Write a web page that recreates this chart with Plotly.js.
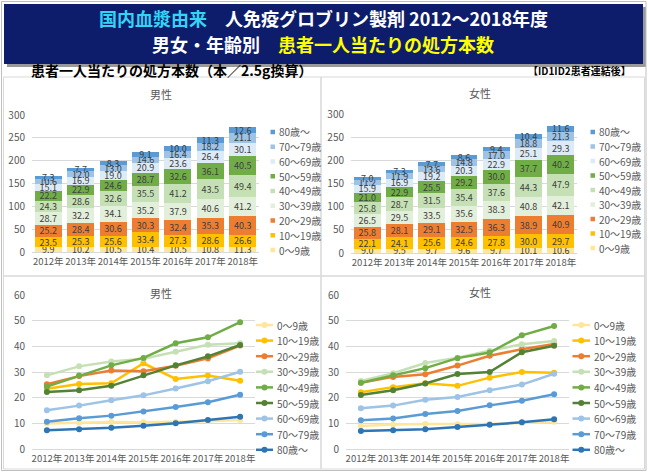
<!DOCTYPE html>
<html>
<head>
<meta charset="utf-8">
<script src="https://cdn.plot.ly/plotly-3.0.1.min.js"></script>
<style>html,body{margin:0;padding:0;background:#fff;}#chart{width:648px;height:472px;}</style>
</head>
<body>
<div id="chart"></div>
<script>
// ---------- DATA ----------
const years = ['2012年', '2013年', '2014年', '2015年', '2016年', '2017年', '2018年'];
const ageGroups = ['0～9歳', '10～19歳', '20～29歳', '30～39歳', '40～49歳', '50～59歳', '60～69歳', '70～79歳', '80歳～'];

// 男性 (male) — prescriptions per patient (2.5g equivalent)
const male_00_09 = [9.9, 10.2, 10.5, 10.4, 10.5, 10.8, 11.3];
const male_10_19 = [23.5, 25.3, 25.6, 33.4, 27.3, 28.6, 26.6];
const male_20_29 = [25.2, 28.4, 30.6, 30.3, 32.4, 35.3, 40.3];
const male_30_39 = [28.7, 32.2, 34.1, 35.2, 37.9, 40.6, 41.2];
const male_40_49 = [24.3, 28.6, 32.6, 35.5, 41.2, 43.5, 49.4];
const male_50_59 = [22.2, 22.9, 24.6, 28.7, 32.6, 36.1, 40.5];
const male_60_69 = [15.1, 16.9, 19.0, 20.9, 23.6, 26.4, 30.1];
const male_70_79 = [10.6, 12.0, 13.0, 14.6, 16.4, 18.2, 21.1];
const male_80_up = [7.3, 7.7, 8.3, 9.1, 10.0, 11.3, 12.6];

// 女性 (female)
const female_00_09 = [9.0, 9.5, 9.7, 9.6, 9.7, 10.1, 10.6];
const female_10_19 = [22.1, 24.1, 25.6, 24.6, 27.8, 30.0, 29.7];
const female_20_29 = [25.8, 28.1, 29.1, 32.5, 36.3, 38.9, 40.9];
const female_30_39 = [26.5, 29.5, 33.5, 35.6, 38.3, 40.8, 42.1];
const female_40_49 = [25.8, 28.7, 31.5, 35.4, 37.6, 44.3, 47.9];
const female_50_59 = [21.0, 22.9, 25.5, 29.2, 30.0, 37.7, 40.2];
const female_60_69 = [15.9, 16.9, 19.2, 20.3, 22.9, 25.1, 29.3];
const female_70_79 = [11.2, 11.9, 13.6, 14.8, 17.0, 18.8, 21.3];
const female_80_up = [7.0, 7.3, 7.7, 8.6, 9.4, 10.4, 11.6];

const maleSeries = [male_00_09, male_10_19, male_20_29, male_30_39, male_40_49, male_50_59, male_60_69, male_70_79, male_80_up];
const femaleSeries = [female_00_09, female_10_19, female_20_29, female_30_39, female_40_49, female_50_59, female_60_69, female_70_79, female_80_up];

// ---------- STYLE ----------
const barColors = ['#FFE699', '#FFC000', '#ED7D31', '#E2EFDA', '#C5E0B4', '#70AD47', '#DDEBF7', '#9DC3E6', '#5B9BD5'];
const lineColors = ['#FFE699', '#FFC000', '#ED7D31', '#C5E0B4', '#70AD47', '#548235', '#9DC3E6', '#5B9BD5', '#2E75B6'];
const FONT = '"Noto Sans CJK JP", "Noto Sans", sans-serif';
const W = 648, H = 472;
const X = p => p / W;
const Y = p => 1 - p / H;

const traces = [];
function addBars(series, xa, ya) {
  series.forEach((vals, i) => {
    traces.push({
      type: 'bar', x: years, y: vals, xaxis: xa, yaxis: ya, name: ageGroups[i],
      marker: {color: barColors[i], line: {width: 0}},
      texttemplate: '%{y:.1f}', textposition: 'inside', insidetextanchor: 'middle', textangle: 0,
      textfont: {size: 9, color: '#404040', family: FONT},
      cliponaxis: false, showlegend: false, hoverinfo: 'x+y+name'
    });
  });
}
function addLines(series, xa, ya) {
  series.forEach((vals, i) => {
    traces.push({
      type: 'scatter', mode: 'lines+markers', x: years, y: vals, xaxis: xa, yaxis: ya, name: ageGroups[i],
      line: {color: lineColors[i], width: 2.5}, marker: {color: lineColors[i], size: 6},
      showlegend: false, cliponaxis: false
    });
  });
}
addBars(maleSeries, 'x', 'y');
addBars(femaleSeries, 'x2', 'y2');
addLines(maleSeries, 'x3', 'y3');
addLines(femaleSeries, 'x4', 'y4');

const tickfont = {size: 9.5, color: '#595959', family: FONT};
function xax(d0, d1, anchor) {
  return {domain: [X(d0), X(d1)], anchor: anchor, type: 'category', tickfont: tickfont, tickangle: 0,
          showgrid: false, showline: false, zeroline: false, ticks: '', ticklabelstandoff: 2, fixedrange: true};
}
function yax(top, bottom, max, dtick, anchor) {
  return {domain: [Y(bottom), Y(top)], anchor: anchor, range: [0, max], dtick: dtick, tickfont: {size: 10, color: '#595959', family: FONT},
          gridcolor: '#D9D9D9', gridwidth: 1, zeroline: true, zerolinecolor: '#D9D9D9', zerolinewidth: 1,
          showline: false, ticks: '', ticklabelstandoff: 6, fixedrange: true};
}

const shapes = [];
const annotations = [];
// frame and panels
shapes.push({type: 'rect', xref: 'paper', yref: 'paper', x0: X(1.5), x1: X(646), y0: Y(470.5), y1: Y(1.5), line: {color: '#BFBFBF', width: 1}});
shapes.push({type: 'rect', xref: 'paper', yref: 'paper', x0: X(3.5), x1: X(644.5), y0: Y(469), y1: Y(77), line: {color: '#D9D9D9', width: 1}});
shapes.push({type: 'line', xref: 'paper', yref: 'paper', x0: X(321), x1: X(321), y0: Y(469), y1: Y(77), line: {color: '#D9D9D9', width: 1.5}});
shapes.push({type: 'line', xref: 'paper', yref: 'paper', x0: X(3.5), x1: X(644.5), y0: Y(276), y1: Y(276), line: {color: '#D9D9D9', width: 1.5}});
// banner
shapes.push({type: 'rect', xref: 'paper', yref: 'paper', x0: X(7), x1: X(646), y0: Y(67), y1: Y(7), fillcolor: '#9A9A9A', line: {width: 0}, layer: 'below'});
shapes.push({type: 'rect', xref: 'paper', yref: 'paper', x0: X(4), x1: X(643), y0: Y(64), y1: Y(4), fillcolor: '#0D1D6B', line: {width: 0}, layer: 'below'});

annotations.push({xref: 'paper', yref: 'paper', x: X(323), y: Y(18), xanchor: 'center', yanchor: 'middle', showarrow: false,
  text: '<b><span style="color:#33D3F5">国内血漿由来</span>　人免疫グロブリン製剤 2012～2018年度</b>',
  font: {size: 18, color: '#FFFFFF', family: FONT}});
annotations.push({xref: 'paper', yref: 'paper', x: X(323), y: Y(44), xanchor: 'center', yanchor: 'middle', showarrow: false,
  text: '<b>男女・年齢別　<span style="color:#FFFF00">患者一人当たりの処方本数</span></b>',
  font: {size: 18, color: '#FFFFFF', family: FONT}});
annotations.push({xref: 'paper', yref: 'paper', x: X(29), y: Y(70), xanchor: 'left', yanchor: 'middle', showarrow: false,
  text: '<b>患者一人当たりの処方本数（本／2.5g換算）</b>', font: {size: 14, color: '#000000', family: FONT}});
annotations.push({xref: 'paper', yref: 'paper', x: X(633), y: Y(70), xanchor: 'right', yanchor: 'middle', showarrow: false,
  text: '<b>【ID1ID2患者連結後】</b>', font: {size: 10, color: '#000000', family: FONT}});

// panel titles
[[161, 94, '男性'], [480, 93, '女性'], [161, 293, '男性'], [480, 292, '女性']].forEach(t => {
  annotations.push({xref: 'paper', yref: 'paper', x: X(t[0]), y: Y(t[1]), xanchor: 'center', yanchor: 'middle', showarrow: false,
    text: t[2], font: {size: 11, color: '#595959', family: FONT}, bgcolor: '#FFFFFF', borderpad: 0});
});

// bar legends (reversed order: 80歳～ on top)
function barLegend(sqX, top, step) {
  for (let k = 0; k < ageGroups.length; k++) {
    const i = ageGroups.length - 1 - k;
    const cy = top + k * step;
    shapes.push({type: 'rect', xref: 'paper', yref: 'paper', x0: X(sqX), x1: X(sqX + 4.5), y0: Y(cy + 2.25), y1: Y(cy - 2.25),
      fillcolor: barColors[i], line: {width: 0}});
    annotations.push({xref: 'paper', yref: 'paper', x: X(sqX + 6), y: Y(cy), xanchor: 'left', yanchor: 'middle', showarrow: false,
      text: ageGroups[i], font: {size: 10, color: '#595959', family: FONT}});
  }
}
barLegend(270.5, 132, 14.75);
barLegend(590.5, 132, 14.5);

// line legends
function lineLegend(x0, x1, top, step) {
  for (let i = 0; i < ageGroups.length; i++) {
    const cy = top + i * step;
    const mx = (x0 + x1) / 2;
    shapes.push({type: 'line', xref: 'paper', yref: 'paper', x0: X(x0), x1: X(x1), y0: Y(cy), y1: Y(cy),
      line: {color: lineColors[i], width: 2.5}});
    shapes.push({type: 'circle', xref: 'paper', yref: 'paper', x0: X(mx - 3), x1: X(mx + 3), y0: Y(cy + 3), y1: Y(cy - 3),
      fillcolor: lineColors[i], line: {width: 0}});
    annotations.push({xref: 'paper', yref: 'paper', x: X(x1 + 1.5), y: Y(cy), xanchor: 'left', yanchor: 'middle', showarrow: false,
      text: ageGroups[i], font: {size: 10, color: '#595959', family: FONT}});
  }
}
lineLegend(256, 273, 325, 15.6);
lineLegend(572.5, 590, 325, 15.6);

const layout = {
  width: W, height: H, autosize: false,
  margin: {l: 0, r: 0, t: 0, b: 0, pad: 0},
  paper_bgcolor: '#FFFFFF', plot_bgcolor: 'rgba(0,0,0,0)',
  font: {family: FONT, color: '#595959'},
  barmode: 'stack', bargap: 0.17,
  showlegend: false,
  uniformtext: {minsize: 9, mode: 'show'},
  xaxis: xax(32, 259, 'y'),
  yaxis: yax(115, 252, 300, 50, 'x'),
  xaxis2: xax(351, 577, 'y2'),
  yaxis2: yax(114, 253, 300, 50, 'x2'),
  xaxis3: xax(32, 255, 'y3'),
  yaxis3: yax(295, 449, 60, 10, 'x3'),
  xaxis4: xax(346, 569, 'y4'),
  yaxis4: yax(295, 449, 60, 10, 'x4'),
  shapes: shapes,
  annotations: annotations
};

Plotly.newPlot('chart', traces, layout, {displayModeBar: false, staticPlot: true});
</script>
</body>
</html>
